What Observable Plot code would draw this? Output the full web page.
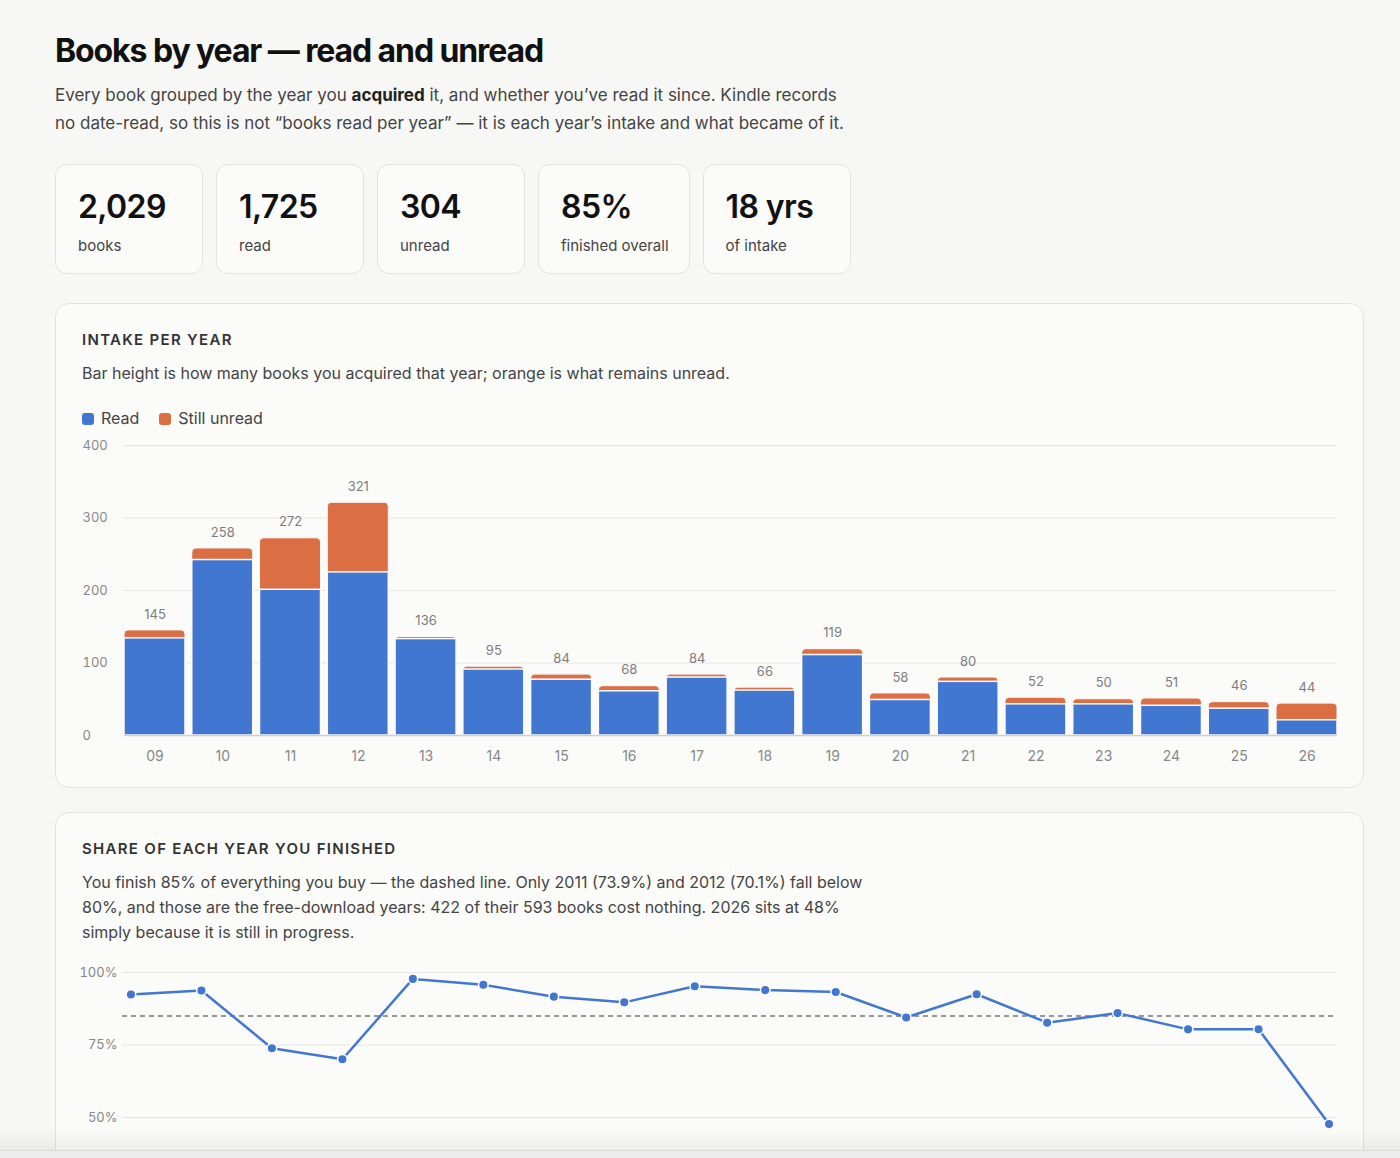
<!DOCTYPE html>
<html><head><meta charset="utf-8">
<script src="https://cdn.jsdelivr.net/npm/d3@7"></script>
<script src="https://cdn.jsdelivr.net/npm/@observablehq/plot@0.6"></script>
<style>
html,body{margin:0;height:1158px;overflow:hidden;}
body{background:#f7f7f5;font-family:Inter,"Noto Sans",sans-serif;color:#111;}
.wrap{padding:30px 36px 40px 55px;}
h1{margin:0;font-size:32px;line-height:42px;font-weight:700;letter-spacing:-1.1px;}
.sub{margin:9px 0 0;font-size:17px;line-height:28px;color:#444;white-space:nowrap;}
.sub b{color:#222;font-weight:700;}
.stats{display:flex;gap:13px;margin-top:27px;}
.stat{box-sizing:border-box;height:110px;min-width:148px;padding:22px 20px 0 22px;border:1px solid #e3e3e1;border-radius:12px;background:#fbfbfa;}
.stat .n{font-size:32px;line-height:40px;font-weight:600;letter-spacing:-0.6px;color:#111;}
.stat .l{font-size:15px;line-height:20px;color:#444;margin-top:9px;white-space:nowrap;}
.card{margin-top:29px;border:1px solid #e3e3e1;border-radius:14px;background:#fbfbfa;padding:26px 26px 22px;}
.card + .card{margin-top:24px;}
.card h2{margin:0;font-size:15px;line-height:20px;font-weight:600;letter-spacing:1.3px;color:#333;}
.card .desc{margin:11px 0 0;font-size:16px;line-height:25px;color:#444;white-space:nowrap;}
.legend{display:flex;gap:20px;margin:22px 0 7px;font-size:16px;line-height:20px;color:#444;}
.sw{display:inline-block;width:12px;height:12px;border-radius:3px;margin-right:7px;vertical-align:-1px;}
#share{margin-top:19px;}
.shade{position:fixed;left:0;right:0;bottom:0;height:30px;background:linear-gradient(to bottom,rgba(0,0,0,0),rgba(0,0,0,0.05) 72%,#cfcfcf 73%,#ececec 78%);}
</style>
</head><body>
<div class="wrap">
  <h1>Books by year — read and unread</h1>
  <p class="sub">Every book grouped by the year you <b>acquired</b> it, and whether you’ve read it since. Kindle records<br>no date-read, so this is not “books read per year” — it is each year’s intake and what became of it.</p>
  <div class="stats" id="stats"></div>
  <div class="card">
    <h2>INTAKE PER YEAR</h2>
    <p class="desc">Bar height is how many books you acquired that year; orange is what remains unread.</p>
    <div class="legend">
      <span><span class="sw" style="background:#4277d1"></span>Read</span>
      <span><span class="sw" style="background:#db6f43"></span>Still unread</span>
    </div>
    <div id="bars"></div>
  </div>
  <div class="card">
    <h2>SHARE OF EACH YEAR YOU FINISHED</h2>
    <p class="desc">You finish 85% of everything you buy — the dashed line. Only 2011 (73.9%) and 2012 (70.1%) fall below<br>80%, and those are the free-download years: 422 of their 593 books cost nothing. 2026 sits at 48%<br>simply because it is still in progress.</p>
    <div id="share"></div>
  </div>
</div>
<div class="shade"></div>
<script>
const years = ["09","10","11","12","13","14","15","16","17","18","19","20","21","22","23","24","25","26"];
const readCounts = [134,242,201,225,133,91,77,61,80,62,111,49,74,43,43,41,37,21];
const unreadCounts = [11,16,71,96,3,4,7,7,4,4,8,9,6,9,7,10,9,23];
const barTicks = [0,100,200,300,400];
const shareTicks = [50,75,100];

const BLUE = "#4277d1", ORANGE = "#db6f43";

const rows = years.map((y,i)=>({year:y, read:readCounts[i], unread:unreadCounts[i], total:readCounts[i]+unreadCounts[i]}));
const totalRead = d3.sum(readCounts), totalUnread = d3.sum(unreadCounts), totalBooks = totalRead + totalUnread;
const overall = 100 * totalRead / totalBooks;

const stats = [
  [d3.format(",")(totalBooks), "books"],
  [d3.format(",")(totalRead), "read"],
  [d3.format(",")(totalUnread), "unread"],
  [Math.round(overall) + "%", "finished overall"],
  [years.length + " yrs", "of intake"]
];
document.getElementById("stats").innerHTML = stats.map(([n,l])=>`<div class="stat"><div class="n">${n}</div><div class="l">${l}</div></div>`).join("");

const bars = Plot.plot({
  width:1255, height:330, marginTop:10, marginBottom:30, marginLeft:42, marginRight:0,
  style:{background:"transparent", fontFamily:"Inter, sans-serif", fontSize:"13px", color:"#888", overflow:"visible"},
  x:{domain:years, paddingInner:0.1, paddingOuter:0, round:false, label:null},
  y:{domain:[0,400], label:null},
  marks:[
    Plot.gridY(barTicks,{stroke:"#e6e6e4", strokeOpacity:1}),
    Plot.axisY(barTicks,{anchor:"left", tickSize:0, tickPadding:0, textAnchor:"start", dx:-42, fill:"#888", fontSize:13, label:null}),
    Plot.axisX({tickSize:0, tickPadding:16, fill:"#888", fontSize:14, label:null}),
    Plot.barY(rows,{x:"year", y:"total", fill:ORANGE, rx:4, stroke:"#fbfbfa", strokeWidth:1}),
    Plot.barY(rows,{x:"year", y:"read", fill:BLUE, stroke:"#fbfbfa", strokeWidth:1.5}),
    Plot.ruleY([0],{stroke:"#cfcfcf", strokeWidth:1.5}),
    Plot.text(rows,{x:"year", y:"total", text:d=>String(d.total), dy:-16, fill:"#7d7d7d", fontSize:13})
  ]
});
document.getElementById("bars").append(bars);

const shareRows = rows.map(d=>({year:d.year, share:100*d.read/d.total}));
const share = Plot.plot({
  width:1255, height:212, marginTop:8, marginBottom:30, marginLeft:40, marginRight:0,
  style:{background:"transparent", fontFamily:"Inter, sans-serif", fontSize:"13px", color:"#888", overflow:"visible"},
  x:{type:"point", domain:years, padding:0.12, round:false, label:null, axis:null},
  y:{domain:[40,100], label:null},
  marks:[
    Plot.gridY(shareTicks,{stroke:"#e6e6e4", strokeOpacity:1}),
    Plot.axisY(shareTicks,{tickSize:0, tickPadding:5, tickFormat:d=>d+"%", fill:"#888", fontSize:13, label:null}),
    Plot.ruleY([overall],{stroke:"#777", strokeDasharray:"5,4", strokeWidth:1.5}),
    Plot.line(shareRows,{x:"year", y:"share", stroke:BLUE, strokeWidth:2.5}),
    Plot.dot(shareRows,{x:"year", y:"share", r:4.8, fill:BLUE, stroke:"#fff", strokeWidth:1.5})
  ]
});
document.getElementById("share").append(share);
</script>
</body></html>
